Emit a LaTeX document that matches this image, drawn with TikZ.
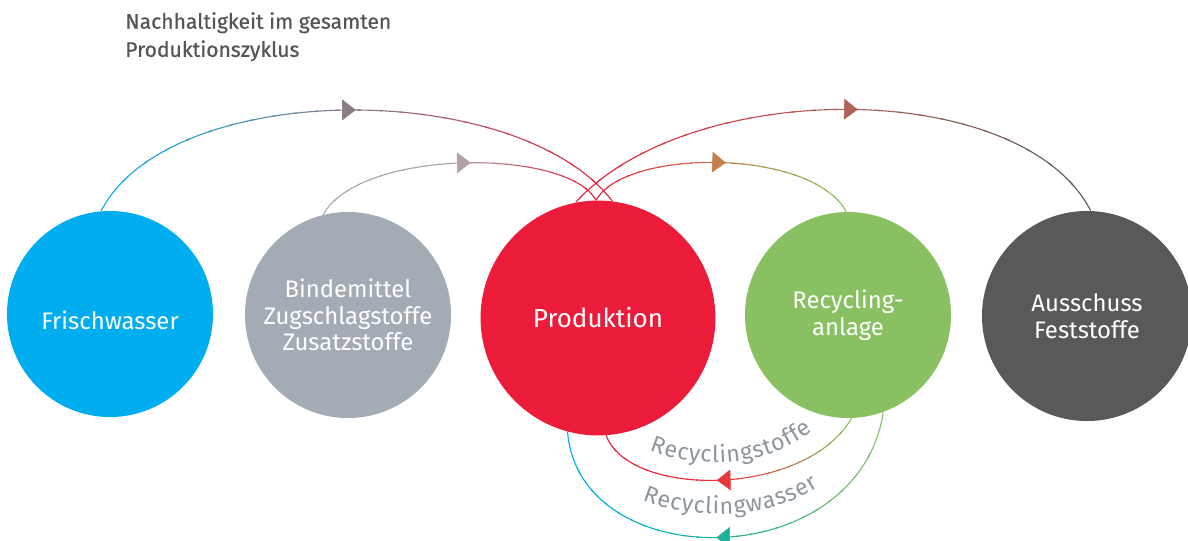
\documentclass[tikz,border=0pt]{standalone}
\usepackage{fontspec}
\setmainfont{Fira Sans}
\newfontfamily\titlefont{Fira Sans}[FakeBold=0.6]
\usepackage{tikz}
\usetikzlibrary{arrows.meta, calc, backgrounds, decorations.markings, decorations.text}
\definecolor{cycblue}{RGB}{0,174,239}
\definecolor{cycgray}{RGB}{163,172,180}
\definecolor{cycred}{RGB}{237,27,58}
\definecolor{cycgreen}{RGB}{137,192,98}
\definecolor{cycdark}{RGB}{88,89,91}
\definecolor{tipmauve}{RGB}{140,122,132}
\definecolor{tiprose}{RGB}{178,160,162}
\definecolor{tipochre}{RGB}{196,128,74}
\definecolor{tipbrown}{RGB}{176,98,86}
\definecolor{tipred}{RGB}{232,56,60}
\definecolor{tipteal}{RGB}{28,178,152}
\definecolor{titlegray}{RGB}{85,85,88}
\definecolor{labelgray}{RGB}{140,150,158}
\tikzset{
  stage/.style={circle, inner sep=0pt, minimum size=5.15cm, align=center, text=white, font=\fontsize{17}{19}\selectfont},
  flow/.style={line width=0.8pt},
  flowlabel/.style={decorate, decoration={text effects along path, text={#1}, text align=center,
    text effects/.cd, text along path,
    characters={text=labelgray},
    character widths={inner xsep=0.3pt}}},
}
% arc with a colour run: start, control 1, control 2, end, colour at start, at the tip, at the end, tip position
\newcommand{\flowarc}[8]{%
  \foreach \i in {0,...,23}{
    \pgfmathsetmacro\ta{\i/24}
    \pgfmathsetmacro\tb{(\i+1.2)/24}
    \pgfmathsetmacro\tm{(\i+0.5)/24}
    \pgfmathtruncatemacro\p{\tm<0.5 ? 200*\tm : 200*(\tm-0.5)}
    \ifdim\tm pt<0.5pt \colorlet{flowcol}{#6!\p!#5}\else\colorlet{flowcol}{#7!\p!#6}\fi
    \begin{scope}
      \clip ($(#1)!\ta!(#4)+(0,-400)$) rectangle ($(#1)!\tb!(#4)+(0,400)$);
      \draw[flow, flowcol] (#1) .. controls (#2) and (#3) .. (#4);
    \end{scope}
  }
  \path[decorate, decoration={markings, mark=at position #8 with {\arrow[#6]{Triangle[length=0.34cm, width=0.52cm]}}}]
    (#1) .. controls (#2) and (#3) .. (#4);
}

\begin{document}
\begin{tikzpicture}[x=0.025cm, y=-0.025cm]
\useasboundingbox (0,0) rectangle (1188,540);

\node (title) [anchor=north west, inner sep=0pt, align=left, text=titlegray, font=\titlefont\fontsize{15}{20}\selectfont] at (125,12) {Nachhaltigkeit im gesamten\\Produktionszyklus};

\node (fresh) [stage, fill=cycblue] at (110,314) {\raisebox{-1.5mm}[\height][\depth]{Frischwasser}};
\node (binder) [stage, fill=cycgray] at (348,315) {Bindemittel\\Zugschlagstoffe\\Zusatzstoffe};
\node (prod) [stage, fill=cycred, minimum size=5.87cm, font=\fontsize{18.5}{20}\selectfont] at (598,318) {Produktion};
\node (recyc) [stage, fill=cycgreen] at (848,315) {Recycling-\\anlage};
\node (waste) [stage, fill=cycdark, minimum size=5.25cm] at (1087,316) {Ausschuss\\Feststoffe};

\begin{scope}[on background layer]
\flowarc{fresh.95}{170,78}{518,78}{prod.83}{cycblue}{tipmauve}{cycred}{0.505}
\flowarc{binder.104}{360,148}{568,148}{prod.91}{cycgray}{tiprose}{cycred}{0.545}
\flowarc{prod.91}{625,148}{812,148}{recyc.91}{cycred}{tipochre}{cycgreen}{0.51}
\flowarc{prod.101}{690,77}{1022,77}{waste.88}{cycred}{tipbrown}{cycdark}{0.535}
\flowarc{recyc.272}{805,498}{629,498}{prod.-86}{cycgreen}{tipred}{cycred}{0.55}
\flowarc{recyc.-70}{858,576}{579,576}{prod.-105}{cycgreen}{tipteal}{cycblue}{0.53}
\end{scope}

{\fontsize{16.5}{16.5}\selectfont
\path[flowlabel=Recyclingstoffe] (640,446) .. controls (690,470) and (770,472) .. (820,424);
\path[flowlabel=Recyclingwasser] (635,497) .. controls (685,520) and (770,524) .. (825,482);
}
\end{tikzpicture}
\end{document}
